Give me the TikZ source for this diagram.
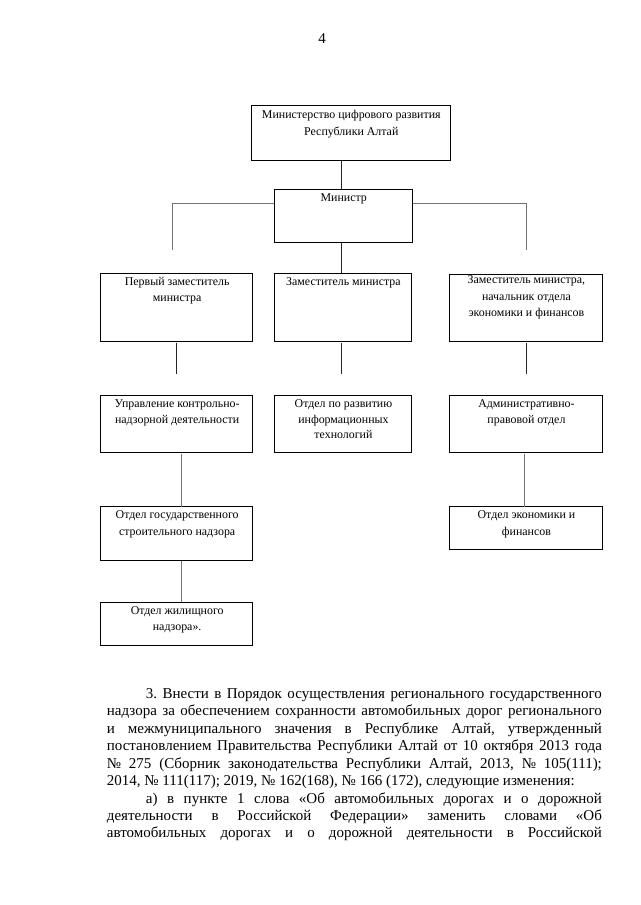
\documentclass[tikz,border=0pt]{standalone}
\usepackage{fontspec}
\setmainfont{Liberation Serif}
\frenchspacing
\begin{document}
\begin{tikzpicture}[x=1pt,y=-1pt,
  box/.style={draw=black,line width=0.9pt,rectangle,inner sep=0pt},
  boxtext/.style={anchor=base,inner sep=0pt,font=\fontsize{11.9}{16.5}\selectfont},
  conn/.style={draw=black!85,line width=0.9pt},
  connlight/.style={draw=black!55,line width=1.1pt}]
\useasboundingbox (0,0) rectangle (640,905);
\fill[white] (0,0) rectangle (640,905);

\newcommand{\orgbox}[5]{% name, x1, y1, x2, y2
  \path[box] (#2,#3) rectangle (#4,#5);
  \node[box,minimum width=#4-#2,minimum height=#5-#3,anchor=north west,draw=none] (#1) at (#2,#3) {};
}

% page number
\node[anchor=base,inner sep=0pt,font=\fontsize{15}{17.5}\selectfont] (pnum) at (322,43) {4};

% boxes
\orgbox{top}{251.7}{105}{450}{160}
\orgbox{min}{274.3}{189}{412.3}{242.3}
\orgbox{bA}{100.7}{273.3}{252.7}{341.7}
\orgbox{bB}{274.3}{273.3}{411.7}{341.7}
\orgbox{bC}{449.3}{274.3}{602.7}{341.7}
\orgbox{bD}{100.7}{395}{252.7}{452.7}
\orgbox{bE}{274.3}{395}{411.7}{452.7}
\orgbox{bF}{449.3}{395}{602.7}{452.7}
\orgbox{bG}{100.7}{506.7}{252.7}{560}
\orgbox{bH}{449.3}{506.7}{602.7}{549.5}
\orgbox{bI}{100.7}{602.3}{252.7}{645.7}

% texts
\node[boxtext] (ttop) at ([yshift=-13pt]top.north) {\parbox[t]{190pt}{\centering Министерство цифрового развития\\[1pt]Республики Алтай}};
\node[boxtext] (tmin) at ([yshift=-12.5pt]min.north) {\parbox[t]{130pt}{\centering Министр}};
\node[boxtext] (tA) at ([yshift=-12pt]bA.north) {\parbox[t]{148pt}{\centering Первый заместитель\\министра}};
\node[boxtext] (tB) at ([yshift=-12pt]bB.north) {\parbox[t]{134pt}{\centering Заместитель министра}};
\node[boxtext] (tC) at ([yshift=-9.5pt]bC.north) {\parbox[t]{150pt}{\centering Заместитель министра,\\начальник отдела\\экономики и финансов}};
\node[boxtext] (tD) at ([yshift=-12.5pt]bD.north) {\parbox[t]{148pt}{\centering Управление контрольно-\\[-1pt]надзорной деятельности}};
\node[boxtext] (tE) at ([yshift=-12.5pt]bE.north) {\parbox[t]{134pt}{\centering Отдел по развитию\\[-1pt]информационных\\[-1pt]технологий}};
\node[boxtext] (tF) at ([yshift=-12.5pt]bF.north) {\parbox[t]{150pt}{\centering Административно-\\[-1pt]правовой отдел}};
\node[boxtext] (tG) at ([yshift=-12pt]bG.north) {\parbox[t]{148pt}{\centering Отдел государственного\\строительного надзора}};
\node[boxtext] (tH) at ([yshift=-12pt]bH.north) {\parbox[t]{150pt}{\centering Отдел экономики и\\финансов}};
\node[boxtext] (tI) at ([yshift=-12pt]bI.north) {\parbox[t]{148pt}{\centering Отдел жилищного\\надзора».}};

% free ends
\coordinate (Lend) at (172.7,250);
\coordinate (Rend) at (526.7,250);
\coordinate (Aend) at (176.7,374);
\coordinate (Bend) at (341.2,374);
\coordinate (Cend) at (526.7,374);

% connectors
\draw[conn] (top.south -| 341.7,0) -- (min.north -| 341.7,0);
\draw[connlight] (min.west |- 0,203.3) -| (Lend);
\draw[connlight] (min.east |- 0,203.3) -| (Rend);
\draw[conn] (min.south -| 341.7,0) -- (bB.north -| 341.7,0);
\draw[conn] (bA.south -| Aend) -- (Aend);
\draw[conn] (bB.south -| Bend) -- (Bend);
\draw[conn] (bC.south -| Cend) -- (Cend);
\draw[connlight] (bD.south -| 181.7,0) -- (bG.north -| 181.7,0);
\draw[connlight] (bF.south -| 524.3,0) -- (bH.north -| 524.3,0);
\draw[connlight] (bG.south -| 181.7,0) -- (bI.north -| 181.7,0);

% body text
\node[anchor=base west,inner sep=0pt] (body) at (106.7,698.3) {\parbox[t]{495pt}{%
\fontsize{15}{17.46}\selectfont\setlength{\parindent}{0pt}%
\hspace*{39pt}\makebox[456pt][s]{3. Внести в Порядок осуществления регионального государственного}\par
\makebox[495pt][s]{надзора за обеспечением сохранности автомобильных дорог регионального}\par
\makebox[495pt][s]{и межмуниципального значения в Республике Алтай, утвержденный}\par
\makebox[495pt][s]{постановлением Правительства Республики Алтай от 10 октября 2013 года}\par
\makebox[495pt][s]{№ 275 (Сборник законодательства Республики Алтай, 2013, № 105(111);}\par
2014, № 111(117); 2019, № 162(168), № 166 (172), следующие изменения:\par
\hspace*{39pt}\makebox[456pt][s]{а) в пункте 1 слова «Об автомобильных дорогах и о дорожной}\par
\makebox[495pt][s]{деятельности в Российской Федерации» заменить словами «Об}\par
\makebox[495pt][s]{автомобильных дорогах и о дорожной деятельности в Российской}}};
\end{tikzpicture}
\end{document}
